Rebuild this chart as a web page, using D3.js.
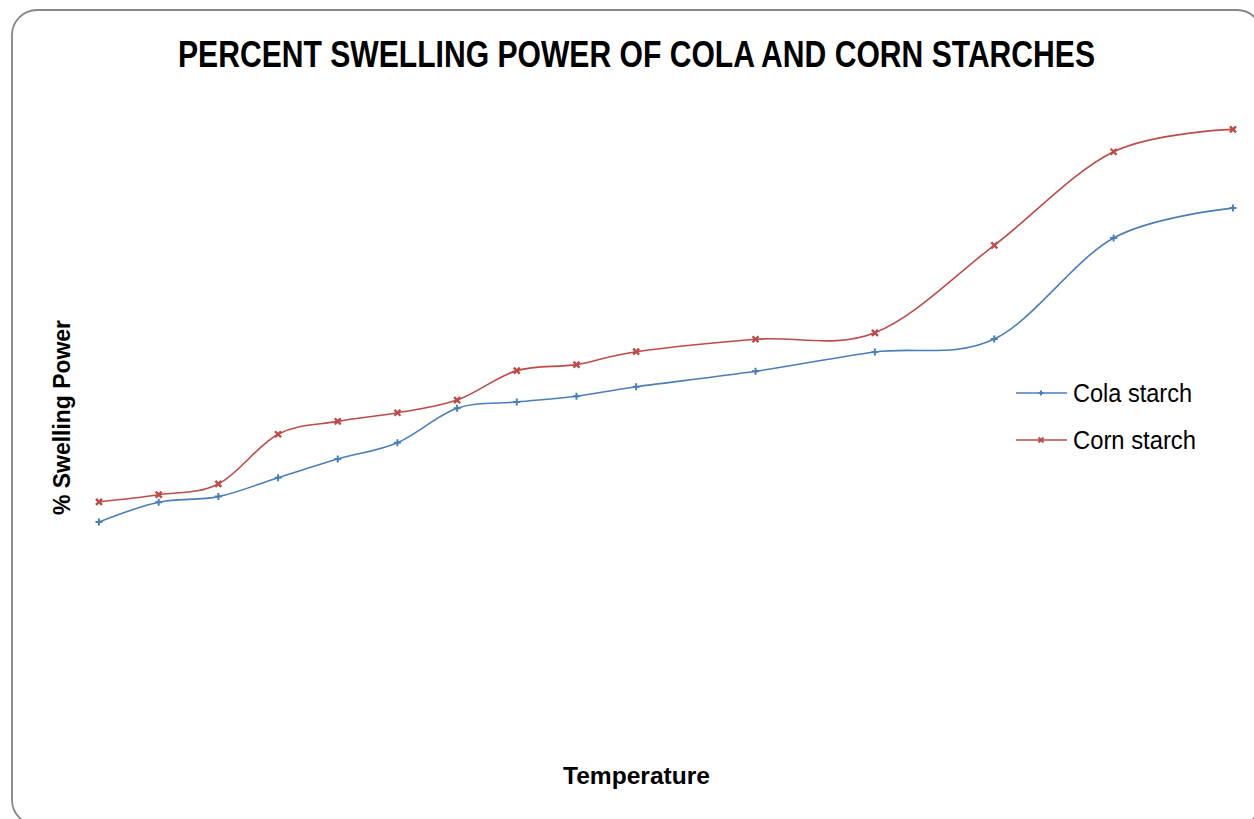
<!DOCTYPE html>
<html>
<head>
<meta charset="utf-8">
<script src="https://cdnjs.cloudflare.com/ajax/libs/d3/7.8.5/d3.min.js"></script>
<style>
	body { margin: 0; background: #fff; }
	svg { display: block; }
	text { font-family: "Liberation Sans Narrow", "Arial Narrow", "Liberation Sans", sans-serif; }
</style>
</head>
<body>
<svg id="chart" width="1254" height="819"></svg>
<script>
// temperature steps (axis hidden in the original)
var temps = [30, 35, 40, 45, 50, 55, 60, 65, 70, 75, 85, 95, 105, 115, 125];
var colaStarch = [10.14, 11.06, 11.32, 12.20, 13.07, 13.83, 15.43, 15.72, 15.99, 16.43, 17.15, 18.05, 18.65, 23.35, 24.74];
var cornStarch = [11.08, 11.41, 11.91, 14.22, 14.82, 15.22, 15.81, 17.18, 17.46, 18.06, 18.64, 18.94, 23.01, 27.36, 28.40];
var seriesNames = ["Cola starch", "Corn starch"];
var seriesColors = ["#4a7ebb", "#be4b48"];

var svg = d3.select("#chart");

/* outer chart frame */
svg.append("rect")
	.attr("x", 12)
	.attr("y", 10)
	.attr("width", 1250)
	.attr("height", 815)
	.attr("rx", 25)
	.attr("fill", "#fff")
	.attr("stroke", "#868686")
	.attr("stroke-width", 1.8);

var x = d3.scaleLinear().domain([30, 125]).range([99, 1233]);
var y = d3.scaleLinear().domain([0, 30]).range([740, 95]);

var line = d3.line()
	.x(function(d) { return x(d[0]); })
	.y(function(d) { return y(d[1]); })
	.curve(d3.curveCardinal.tension(0));

var series = [colaStarch, cornStarch].map(function(vals) {
	return temps.map(function(t, i) { return [t, vals[i]]; });
});

var plusPath = "M-3.5,0H3.5M0,-3.5V3.5";
var crossPath = "M-3,-3L3,3M-3,3L3,-3";

series.forEach(function(pts, s) {
	svg.append("path")
		.attr("d", line(pts))
		.attr("fill", "none")
		.attr("stroke", seriesColors[s])
		.attr("stroke-width", 1.6);

	svg.selectAll(".m" + s)
		.data(pts)
		.enter()
		.append("path")
		.attr("class", "m" + s)
		.attr("transform", function(d) { return "translate(" + x(d[0]) + "," + y(d[1]) + ")"; })
		.attr("d", s === 0 ? plusPath : crossPath)
		.attr("fill", "none")
		.attr("stroke", seriesColors[s])
		.attr("stroke-width", s === 0 ? 2 : 2.4);
});

/* title and axis titles (narrow face squeezed with textLength) */
svg.append("text")
	.attr("x", 178)
	.attr("y", 67)
	.attr("font-size", 37)
	.attr("font-weight", "bold")
	.attr("textLength", 917)
	.attr("lengthAdjust", "spacingAndGlyphs")
	.text("PERCENT SWELLING POWER OF COLA AND CORN STARCHES");

svg.append("text")
	.attr("transform", "translate(70,515) rotate(-90)")
	.attr("font-size", 24)
	.attr("font-weight", "bold")
	.attr("textLength", 195)
	.attr("lengthAdjust", "spacingAndGlyphs")
	.text("% Swelling Power");

svg.append("text")
	.attr("x", 563)
	.attr("y", 784)
	.attr("font-size", 24)
	.attr("font-weight", "bold")
	.attr("textLength", 147)
	.attr("lengthAdjust", "spacingAndGlyphs")
	.text("Temperature");

/* legend */
var legendLen = [119, 123];
seriesNames.forEach(function(name, s) {
	var ly = 393 + s * 47;
	var g = svg.append("g");
	g.append("line")
		.attr("x1", 1016).attr("x2", 1067)
		.attr("y1", ly).attr("y2", ly)
		.attr("stroke", seriesColors[s])
		.attr("stroke-width", 1.6);
	g.append("path")
		.attr("transform", "translate(1041," + ly + ")")
		.attr("d", s === 0 ? "M-2.5,0H2.5M0,-2.5V2.5" : "M-2.5,-2.5L2.5,2.5M-2.5,2.5L2.5,-2.5")
		.attr("fill", "none")
		.attr("stroke", seriesColors[s])
		.attr("stroke-width", 2);
	g.append("text")
		.attr("x", 1073)
		.attr("y", ly + 9)
		.attr("font-size", 26)
		.attr("textLength", legendLen[s])
		.attr("lengthAdjust", "spacingAndGlyphs")
		.text(name);
});
</script>
</body>
</html>
